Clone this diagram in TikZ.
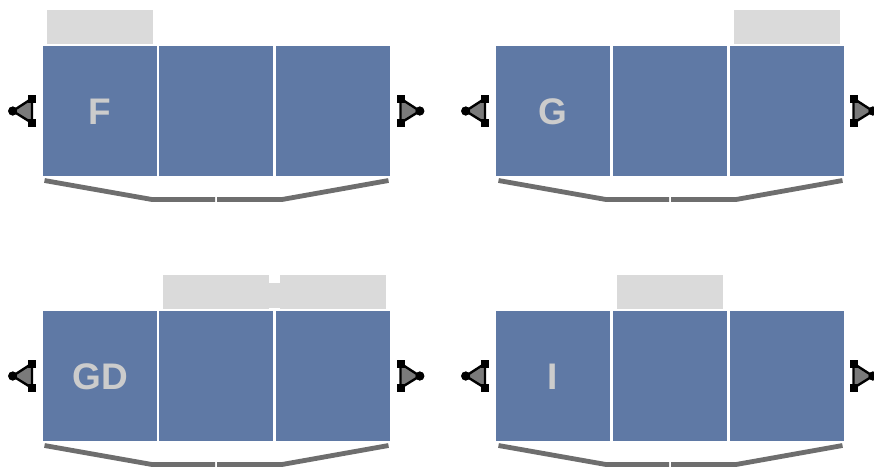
\documentclass[tikz,border=0pt]{standalone}
\usepackage{fontspec}
\usetikzlibrary{calc}
\setmainfont{Liberation Sans}
\definecolor{cellblue}{HTML}{5F79A5}
\definecolor{barg}{HTML}{DADADA}
\definecolor{lab}{HTML}{CCCCCC}
\definecolor{brace}{HTML}{6E6E6E}
\definecolor{trig}{HTML}{7A7A7A}
\tikzset{
  cell/.style={fill=cellblue,draw=none,inner sep=0pt,minimum width=114pt,minimum height=130pt,anchor=north west},
  tag/.style={fill=barg,draw=none,inner sep=0pt,minimum width=106pt,minimum height=33.5pt,anchor=north west},
  celllabel/.style={text=lab,font=\fontsize{37}{37}\selectfont\bfseries,inner sep=0pt},
  bracket/.style={draw=brace,line width=4.8pt,line join=miter},
  tri/.style={draw=black,line width=2.4pt,fill=trig,line join=round},
  dotn/.style={circle,fill=black,draw=none,inner sep=0pt,minimum size=9pt},
  sqn/.style={rectangle,fill=black,draw=none,inner sep=0pt,minimum size=8pt}
}
\newcommand{\panel}[5]{% name, x offset, y offset, label, column correction
  \begin{scope}[shift={(#2,#3)}]
    \node[cell] (#1a) at (43,-46) {};
    \node[cell] (#1b) at (159+#5,-46) {};
    \node[cell] (#1c) at (276+#5,-46) {};
    \node[celllabel] (#1t) at (100,-111.5) {#4};
    \node[sqn] (#1lu) at (32,-98.5) {};
    \node[sqn] (#1ld) at (32,-123) {};
    \node[dotn] (#1lp) at (12.7,-111) {};
    \draw[tri] (#1lu.center) -- (#1lp.center) -- (#1ld.center) -- cycle;
    \node[sqn] at (#1lu) {};
    \node[sqn] at (#1ld) {};
    \node[dotn] at (#1lp) {};
    \node[sqn] (#1ru) at (400.5,-98.5) {};
    \node[sqn] (#1rd) at (400.5,-123) {};
    \node[dotn] (#1rp) at (419.8,-111) {};
    \draw[tri] (#1ru.center) -- (#1rp.center) -- (#1rd.center) -- cycle;
    \node[sqn] at (#1ru) {};
    \node[sqn] at (#1rd) {};
    \node[dotn] at (#1rp) {};
    \coordinate (#1w) at (44.5+#5,-180.5);
    \coordinate (#1x) at (152+#5,-199.5);
    \coordinate (#1y) at (215+#5,-199.5);
    \coordinate (#1z) at (217+#5,-199.5);
    \coordinate (#1q) at (282+#5,-199.5);
    \coordinate (#1e) at (388.5+#5,-180.5);
    \draw[bracket] (#1w) -- (#1x) -- (#1y);
    \draw[bracket] (#1z) -- (#1q) -- (#1e);
  \end{scope}
}
\begin{document}
\begin{tikzpicture}[x=1pt,y=1pt]
\useasboundingbox (0,0) rectangle (874,-467);
\fill[white] (0,0) rectangle (874,-467);
\panel{p}{0}{0}{F}{0}
\panel{q}{453}{0}{G}{1}
\panel{r}{0}{-265}{GD}{0}
\panel{s}{453}{-265}{I}{1}
\node[tag] (t1) at (47,-10) {};
\node[tag] (t2) at (734,-10) {};
\node[tag] (t3) at (163,-275) {};
\node[tag] (t4) at (280,-275) {};
\node[tag] (t5) at (617,-275) {};
\fill[barg] ($(t3.north east)+(0,-8)$) rectangle ($(t4.south west)+(0,0.8)$);
\end{tikzpicture}
\end{document}
